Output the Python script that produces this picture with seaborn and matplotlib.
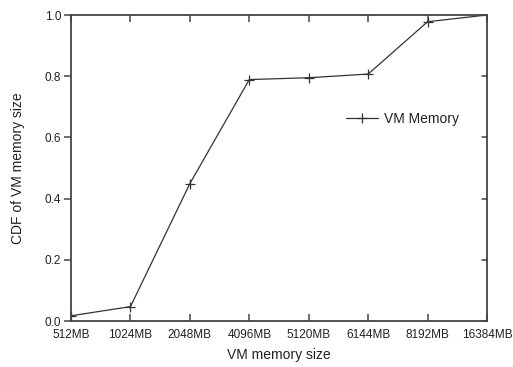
import matplotlib
matplotlib.use("Agg")
import matplotlib.pyplot as plt
import seaborn as sns
import pandas as pd

sizes = ["512MB", "1024MB", "2048MB", "4096MB", "5120MB", "6144MB", "8192MB", "16384MB"]
cdf = [0.017, 0.047, 0.449, 0.789, 0.795, 0.807, 0.978, 1.0]
y_ticks = [0.0, 0.2, 0.4, 0.6, 0.8, 1.0]

sns.set_theme(style="white")
plt.rcParams["font.family"] = ["Liberation Sans", "DejaVu Sans"]

df = pd.DataFrame({"pos": range(len(sizes)), "cdf": cdf})

fig = plt.figure(figsize=(5.13, 3.67), dpi=100)
ax = fig.add_axes([71 / 513, 1 - 321 / 367, (487 - 71) / 513, (321 - 15) / 367])

sns.lineplot(data=df, x="pos", y="cdf", ax=ax, color="#333333", linewidth=0.9,
             marker="+", markersize=7, markeredgewidth=0.9, markeredgecolor="#333333",
             label="VM Memory")

ax.set_xlim(0, len(sizes) - 1)
ax.set_ylim(0, 1.0)
ax.set_xticks(range(len(sizes)))
ax.set_xticklabels(sizes)
ax.set_yticks(y_ticks)
ax.set_yticklabels([f"{v:.1f}" for v in y_ticks])

for s in ax.spines.values():
    s.set_color("#444444")
    s.set_linewidth(1.3)

ax.tick_params(axis="x", which="both", direction="in", top=True, bottom=True,
               length=5, width=1.1, color="#444444", labelsize=8.5, pad=6,
               labelcolor="#222222")
ax.tick_params(axis="y", which="both", direction="out", left=True, right=False,
               length=5, width=1.1, color="#444444", labelsize=8.5, pad=2,
               labelcolor="#222222")
# inward ticks along the right edge
for v in y_ticks:
    ax.plot([len(sizes) - 1 - 0.085, len(sizes) - 1], [v, v], color="#444444",
            linewidth=1.1, clip_on=False)

ax.set_xlabel("VM memory size", fontsize=10, color="#222222", labelpad=5)
ax.set_ylabel("CDF of VM memory size", fontsize=10, color="#222222", labelpad=14)

ax.legend(loc="upper left", bbox_to_anchor=(0.63, 0.725), frameon=False,
          fontsize=10, handlelength=2.3, handletextpad=0.5, labelcolor="#222222")

fig.savefig("out.png", dpi=100)
